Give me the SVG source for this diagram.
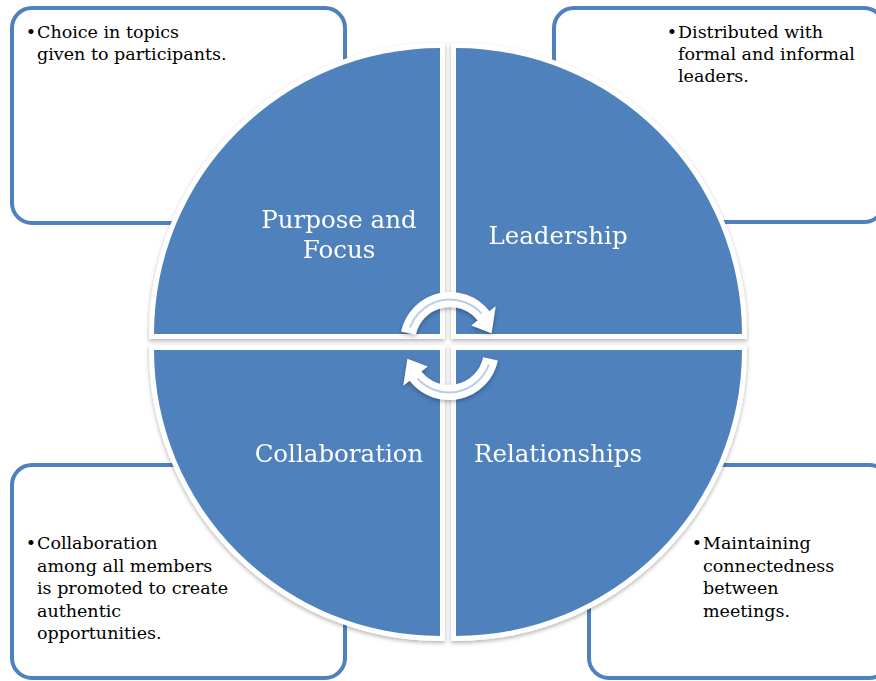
<svg xmlns="http://www.w3.org/2000/svg" width="876" height="681" viewBox="0 0 876 681">
<style>
.box{fill:#fff;stroke:#4F81BD;stroke-width:4}
.quad{fill:#4F81BD;stroke:#fff;stroke-width:10;paint-order:stroke;stroke-linejoin:miter}
.lbl{font-family:"DejaVu Serif","Liberation Serif",serif;font-size:24.5px;fill:#fff;text-anchor:middle}
.txt{font-family:"DejaVu Serif","Liberation Serif",serif;font-size:17.5px;fill:#000}
.arrow{fill:#fff}
.aline{fill:none;stroke:#B9CDE5;stroke-width:2}
</style>
<defs>
<filter id="sh" x="-10%" y="-10%" width="120%" height="120%">
<feDropShadow dx="0" dy="2" stdDeviation="2" flood-color="#000" flood-opacity="0.3"/>
</filter>
<g id="arrowShape">
<path class="arrow" d="M401.1,331.6 A50,50 0 0 1 489.4,311.2 L495.7,306.3 L491.6,333.2 L471.3,325.4 L477.6,320.5 A35,35 0 0 0 415.8,334.7 Z"/>
<path class="aline" d="M410.1,327.5 A42.5,42.5 0 0 1 481.6,313.6"/>
</g>
</defs>
<rect width="876" height="681" fill="#fff"/>

<g id="box-tl">
<rect class="box" x="12" y="8" width="333" height="215" rx="20"/>
<text class="txt" x="31" y="38" text-anchor="middle">•</text>
<text class="txt" x="37" y="38">Choice in topics</text>
<text class="txt" x="37" y="60">given to participants.</text>
</g>
<g id="box-tr">
<rect class="box" x="554" y="8" width="330" height="214" rx="20"/>
<text class="txt" x="672" y="38" text-anchor="middle">•</text>
<text class="txt" x="678" y="38">Distributed with</text>
<text class="txt" x="678" y="60">formal and informal</text>
<text class="txt" x="678" y="82">leaders.</text>
</g>
<g id="box-bl">
<rect class="box" x="12" y="465" width="333" height="213" rx="20"/>
<text class="txt" x="31" y="549" text-anchor="middle">•</text>
<text class="txt" x="37" y="549">Collaboration</text>
<text class="txt" x="37" y="571.5">among all members</text>
<text class="txt" x="37" y="594">is promoted to create</text>
<text class="txt" x="37" y="616.5">authentic</text>
<text class="txt" x="37" y="639">opportunities.</text>
</g>
<g id="box-br">
<rect class="box" x="589" y="465" width="300" height="213" rx="20"/>
<text class="txt" x="697" y="549" text-anchor="middle">•</text>
<text class="txt" x="703" y="549">Maintaining</text>
<text class="txt" x="703" y="571.5">connectedness</text>
<text class="txt" x="703" y="594">between</text>
<text class="txt" x="703" y="616.5">meetings.</text>
</g>

<g id="quad-purpose" filter="url(#sh)">
<path class="quad" d="M440,334 L154,334 A286,286 0 0 1 440,48 Z"/>
<text class="lbl" x="339" y="228">Purpose and</text>
<text class="lbl" x="339" y="258">Focus</text>
</g>
<g id="quad-leadership" filter="url(#sh)">
<path class="quad" d="M456,334 L456,48 A286,286 0 0 1 742,334 Z"/>
<text class="lbl" x="558" y="244">Leadership</text>
</g>
<g id="quad-relationships" filter="url(#sh)">
<path class="quad" d="M456,350 L742,350 A286,286 0 0 1 456,636 Z"/>
<text class="lbl" x="558" y="462">Relationships</text>
</g>
<g id="quad-collaboration" filter="url(#sh)">
<path class="quad" d="M440,350 L440,636 A286,286 0 0 1 154,350 Z"/>
<text class="lbl" x="339" y="462">Collaboration</text>
</g>

<g id="connectors" filter="url(#sh)">
<use href="#arrowShape"/>
<use href="#arrowShape" transform="rotate(180 449.5 346)"/>
</g>
</svg>
